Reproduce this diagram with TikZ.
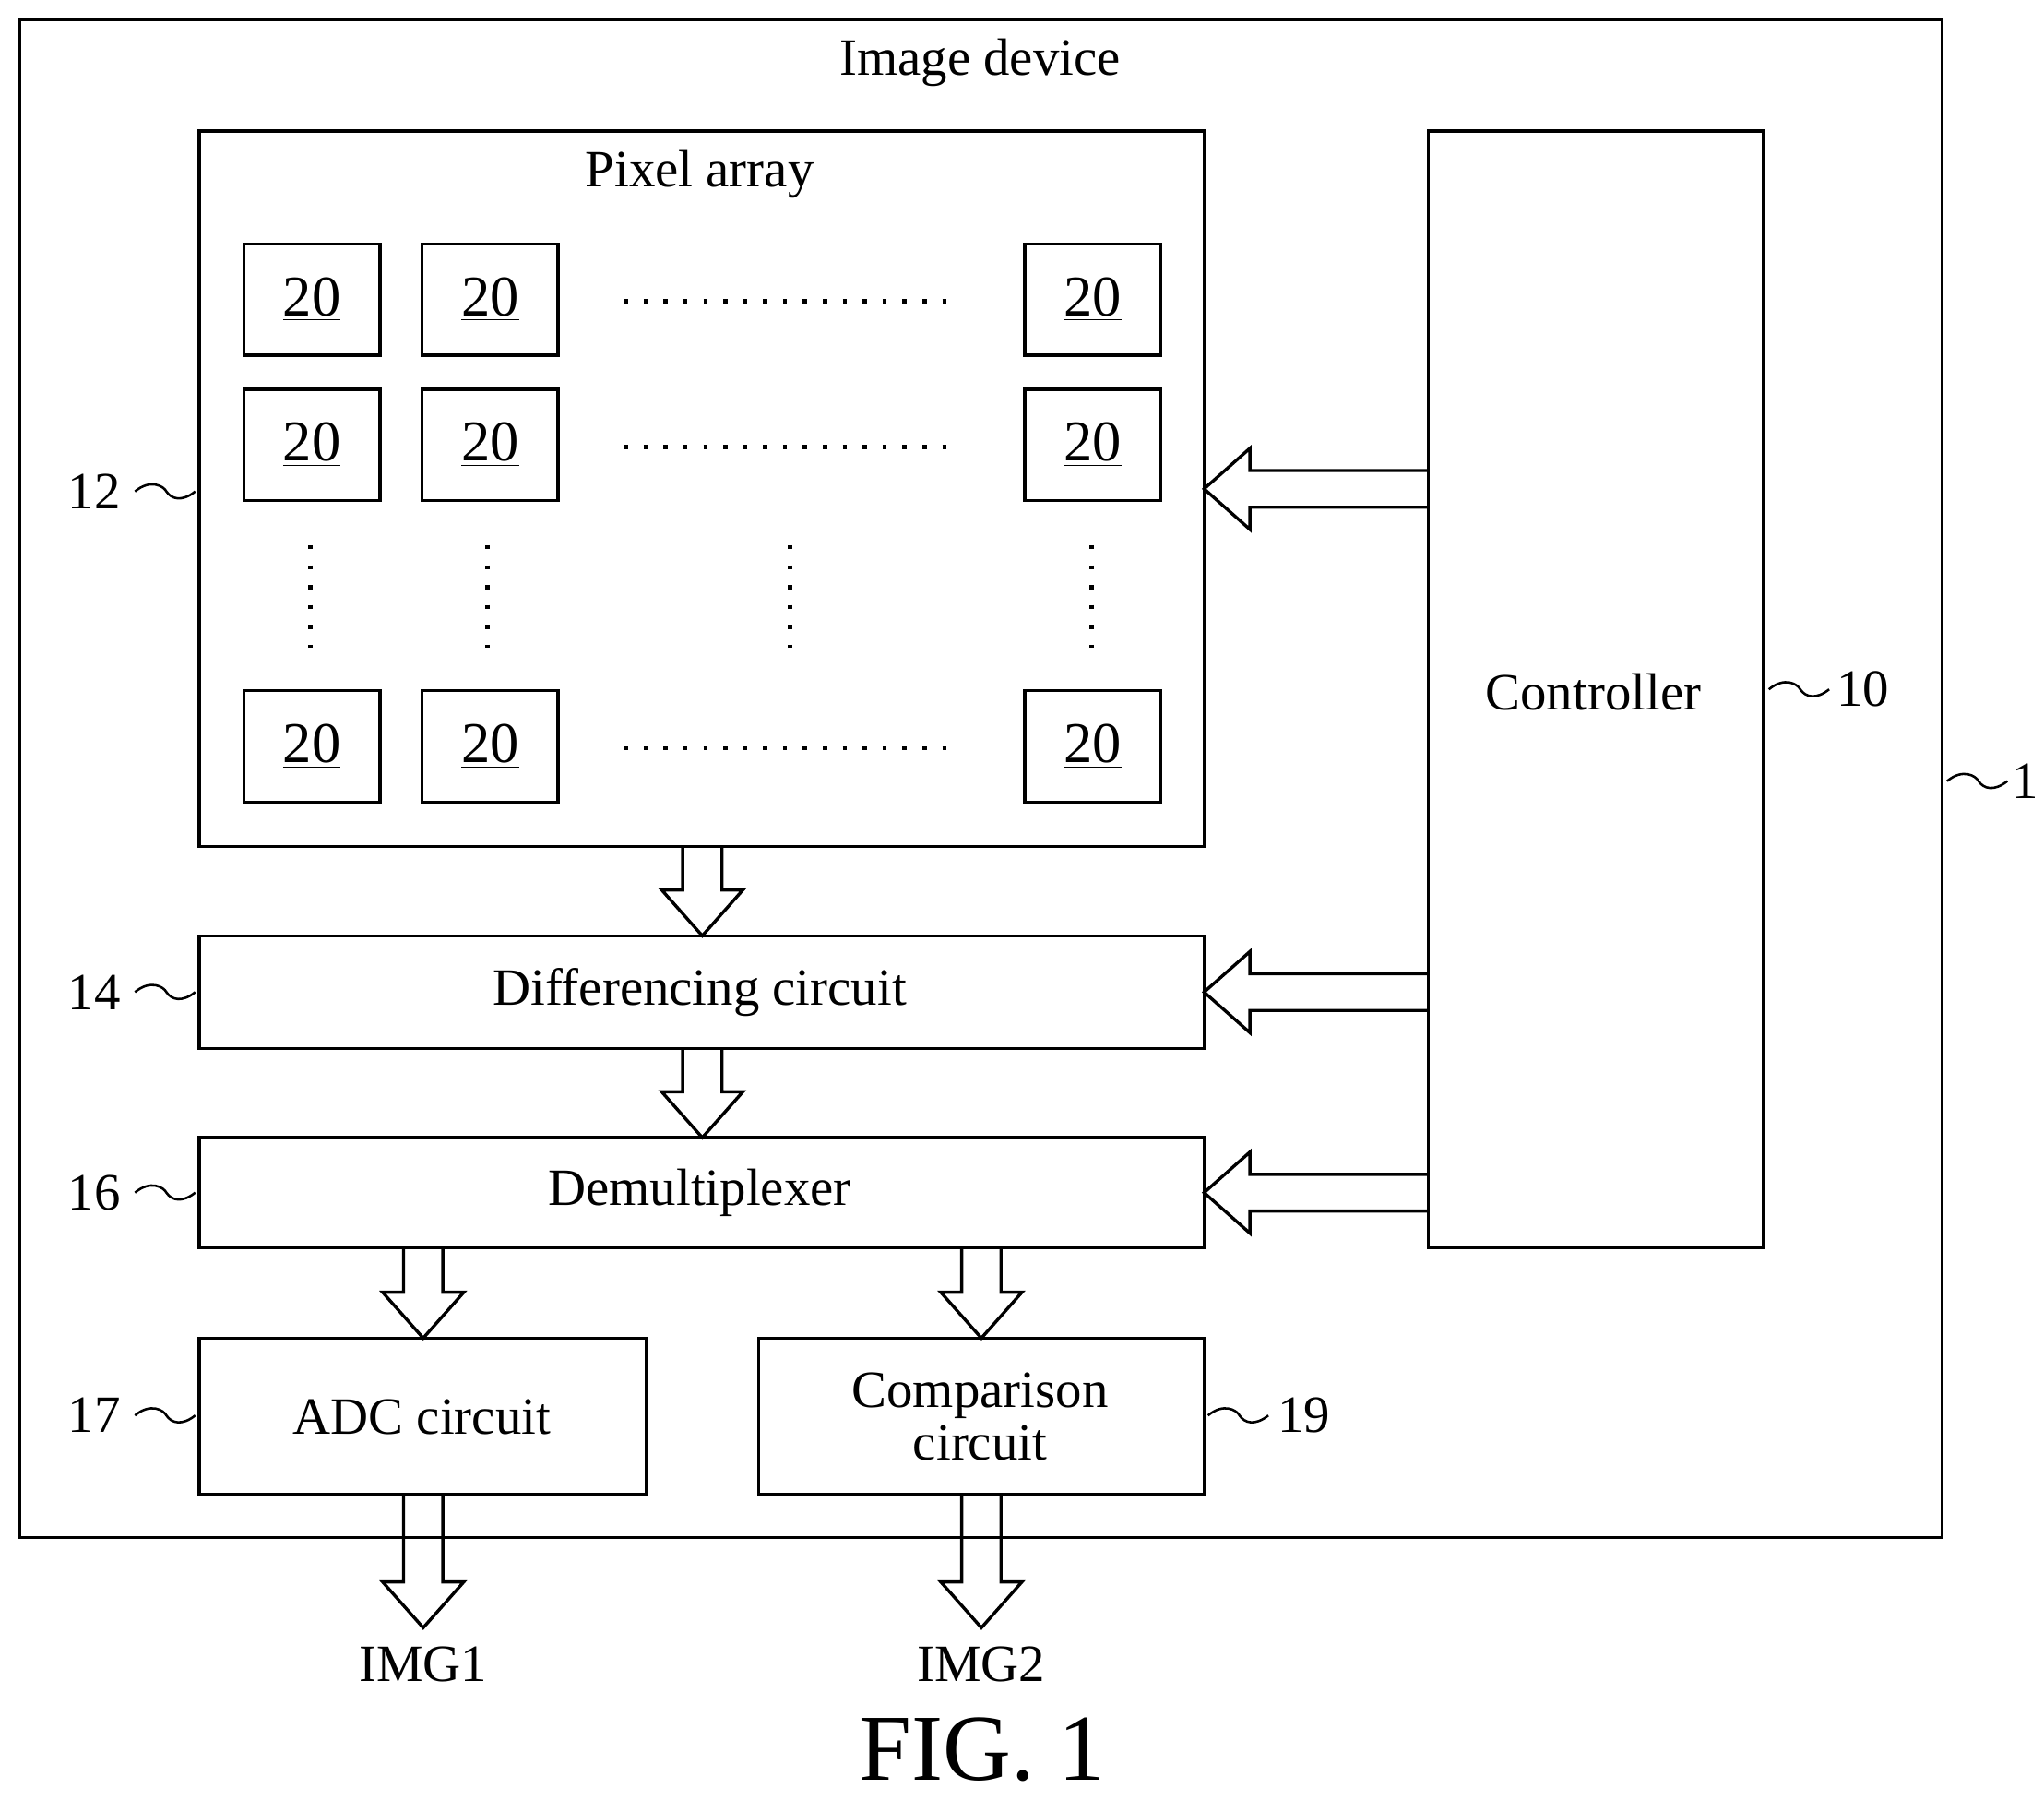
\documentclass[tikz,border=0pt]{standalone}
\usepackage{fontspec}
\setmainfont{Liberation Serif}
\begin{document}
\begin{tikzpicture}[x=0.5pt,y=-0.5pt,line width=1.2pt,
  box/.style={draw,line width=1.2pt},
  txt/.style={font=\fontsize{20}{22}\selectfont,inner sep=0},
  pix/.style={draw,line width=1.2pt,minimum width=52pt,minimum height=42.5pt,font=\fontsize{22}{24}\selectfont},
  dots/.style={line width=1.6pt,dash pattern=on 1.6pt off 6pt}]
\useasboundingbox (0,0) rectangle (1560,1373);
\newcommand\VArrow[3]{% x, y1, y2
  \draw[line width=1.2pt] (#1-15,#2) -- (#1-15,#3-35) -- (#1-31,#3-35) -- (#1,#3) -- (#1+31,#3-35) -- (#1+15,#3-35) -- (#1+15,#2);}
\newcommand\HArrow[3]{% y, x1(from, right), x2(to, left)
  \draw[line width=1.2pt] (#2,#1-14) -- (#3+35,#1-14) -- (#3+35,#1-31) -- (#3,#1) -- (#3+35,#1+31) -- (#3+35,#1+14) -- (#2,#1+14);}
\newcommand\Tilde[2]{% start x,y ; width 45
  \draw[line width=0.9pt] (#1,#2) .. controls (#1+12,#2-10) and (#1+22,#2-4) .. (#1+24,#2) .. controls (#1+28,#2+6) and (#1+36,#2+8) .. (#1+46,#2);}
% outer
\draw[box] (15,15) rectangle (1482,1173);
\node[txt] (tdev) at (748,48) {Image device};
% pixel array
\draw[box] (152,100) rectangle (919,646);
\node[txt] (tpix) at (534,133) {Pixel array};
\foreach \x/\c in {238/a,374/b,834/c}{
  \foreach \y/\r in {228.5/1,339.5/2,569.5/3}{
    \node[pix] (p\c\r) at (\x,\y) {\underline{20}};}}
\foreach \y in {230,341,571}{\draw[dots] (476,\y) -- (730,\y);}
\foreach \x in {237,372,603,833}{\draw[dots] (\x,416) -- (\x,494);}
% controller
\draw[box] (1090,100) rectangle (1346,952);
\node[txt] (tctl) at (1216,528) {Controller};
% blocks
\draw[box] (152,714) rectangle (919,800);
\node[txt] (tdif) at (534,757) {Differencing circuit};
\draw[box] (152,868) rectangle (919,952);
\node[txt] (tdem) at (534,910) {Demultiplexer};
\draw[box] (152,1021) rectangle (493,1140);
\node[txt] (tadc) at (322,1081) {ADC circuit};
\draw[box] (579,1021) rectangle (919,1140);
\node[txt,align=center] (tcmp) at (748,1081) {Comparison\\[-2pt]circuit};
% arrows
\VArrow{536}{646}{714}
\VArrow{536}{800}{868}
\VArrow{323}{952}{1021}
\VArrow{749}{952}{1021}
\VArrow{323}{1140}{1242}
\VArrow{749}{1140}{1242}
\HArrow{373}{1090}{919}
\HArrow{757}{1090}{919}
\HArrow{910}{1090}{919}
\node[txt] (img1) at (323,1270) {IMG1};
\node[txt] (img2) at (749,1270) {IMG2};
% labels
\node[txt] (l12) at (72,375) {12}; \Tilde{103}{375}
\node[txt] (l14) at (72,757) {14}; \Tilde{103}{757}
\node[txt] (l16) at (72,910) {16}; \Tilde{103}{910}
\node[txt] (l17) at (72,1080) {17}; \Tilde{103}{1080}
\Tilde{922}{1080}\node[txt] (l19) at (995,1080) {19};
\Tilde{1350}{526}\node[txt] (l10) at (1422,526) {10};
\Tilde{1486}{596}\node[txt] (l1) at (1546,596) {1};
\node[font=\fontsize{36}{38}\selectfont,inner sep=0] (fig) at (750,1335) {FIG. 1};
\end{tikzpicture}
\end{document}
